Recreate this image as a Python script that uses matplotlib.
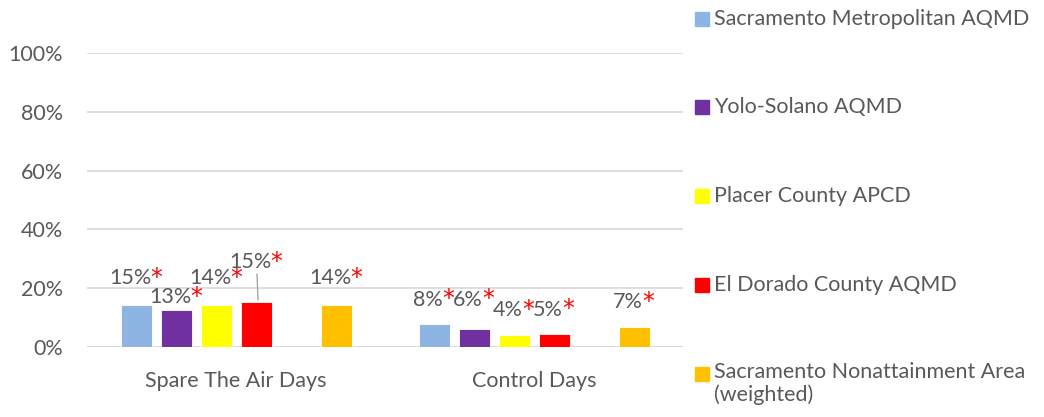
import matplotlib
matplotlib.use("Agg")
import matplotlib.pyplot as plt
from matplotlib.patches import Rectangle

categories = ["Spare The Air Days", "Control Days"]
series = ["Sacramento Metropolitan AQMD", "Yolo-Solano AQMD", "Placer County APCD",
          "El Dorado County AQMD", "Sacramento Nonattainment Area\n(weighted)"]
colors = ["#8EB4E3", "#7030A0", "#FFFF00", "#FF0000", "#FFC000"]
values = [
    [0.143, 0.079],   # Sacramento Metropolitan AQMD
    [0.126, 0.062],   # Yolo-Solano AQMD
    [0.143, 0.041],   # Placer County APCD
    [0.153, 0.045],   # El Dorado County AQMD
    [0.143, 0.067],   # Sacramento Nonattainment Area
]
labels = [
    ["15%", "8%"],
    ["13%", "6%"],
    ["14%", "4%"],
    ["15%", "5%"],
    ["14%", "7%"],
]
yticks = [0, 0.2, 0.4, 0.6, 0.8, 1.0]
ytick_labels = ["0%", "20%", "40%", "60%", "80%", "100%"]

# layout: slot index per series (slot 4 is empty)
slots = [0, 1, 2, 3, 5]
# label offsets (pixels) from the bar top: series x category
label_dy = [[27, 24], [13, 29], [27, 25], [40, 24], [27, 25]]

FONT = "Lato"
TXT = "#595959"
W, H = 1044, 417
PX = 72 / 100  # points per pixel
fig = plt.figure(figsize=(W / 100, H / 100), dpi=100)
ax = fig.add_axes([87 / W, (H - 347) / H, 596 / W, 294 / H])

slot_w = 40 / 298
bar_w = 31 / 298
for i, (name, col) in enumerate(zip(series, colors)):
    xs = [c + (slots[i] - 2.5) * slot_w for c in range(len(categories))]
    ax.bar(xs, values[i], width=bar_w, color=col, edgecolor="white", linewidth=0.6, zorder=3)
    for j, x in enumerate(xs):
        dy = label_dy[i][j]
        t = ax.annotate(labels[i][j], xy=(x, values[i][j]), xytext=(-6, dy),
                        textcoords="offset pixels", ha="center", va="center",
                        fontsize=15.5, color=TXT, family=FONT, zorder=5)
        ax.annotate("*", xy=(0.98, 1.12), xycoords=t, ha="left", va="top",
                    fontsize=17, color="#FF0000", family="DejaVu Sans", zorder=5)
        if dy > 35:
            # leader line from bar top up to label
            ax.annotate("", xy=(x + 2 / 298, values[i][j] + 2 / 294),
                        xytext=(x + 1 / 298, values[i][j] + (dy - 12) / 294),
                        arrowprops=dict(arrowstyle="-", color="#A6A6A6", lw=1,
                                        shrinkA=0, shrinkB=0), zorder=4)

ax.set_xlim(-0.5, len(categories) - 0.5)
ax.set_ylim(0, 1)
ax.set_yticks(yticks)
ax.set_yticklabels(ytick_labels, family=FONT, fontsize=15.5, color=TXT)
ax.set_xticks(range(len(categories)))
ax.set_xticklabels(categories, family=FONT, fontsize=15.5, color=TXT)
ax.tick_params(axis="y", length=0, pad=24 * PX)
ax.tick_params(axis="x", length=0, pad=24 * PX)
ax.grid(axis="y", color="#D9D9D9", linewidth=1.2, zorder=0)
for s in ax.spines.values():
    s.set_visible(False)
ax.axhline(0, color="#D9D9D9", linewidth=1.2, zorder=2)

# legend drawn at the right
leg_y = [19, 107, 196, 285, 374]
for name, col, yc in zip(series, colors, leg_y):
    fig.patches.append(Rectangle((695 / W, (H - yc - 7) / H), 14 / W, 14 / H,
                                 transform=fig.transFigure, color=col))
    if "\n" in name:
        fig.text(714 / W, (H - yc + 12) / H, name, ha="left", va="top",
                 family=FONT, fontsize=15.5, color=TXT, linespacing=1.15)
    else:
        fig.text(714 / W, (H - yc) / H, name, ha="left", va="center",
                 family=FONT, fontsize=15.5, color=TXT)

fig.savefig("out.png", dpi=100)
